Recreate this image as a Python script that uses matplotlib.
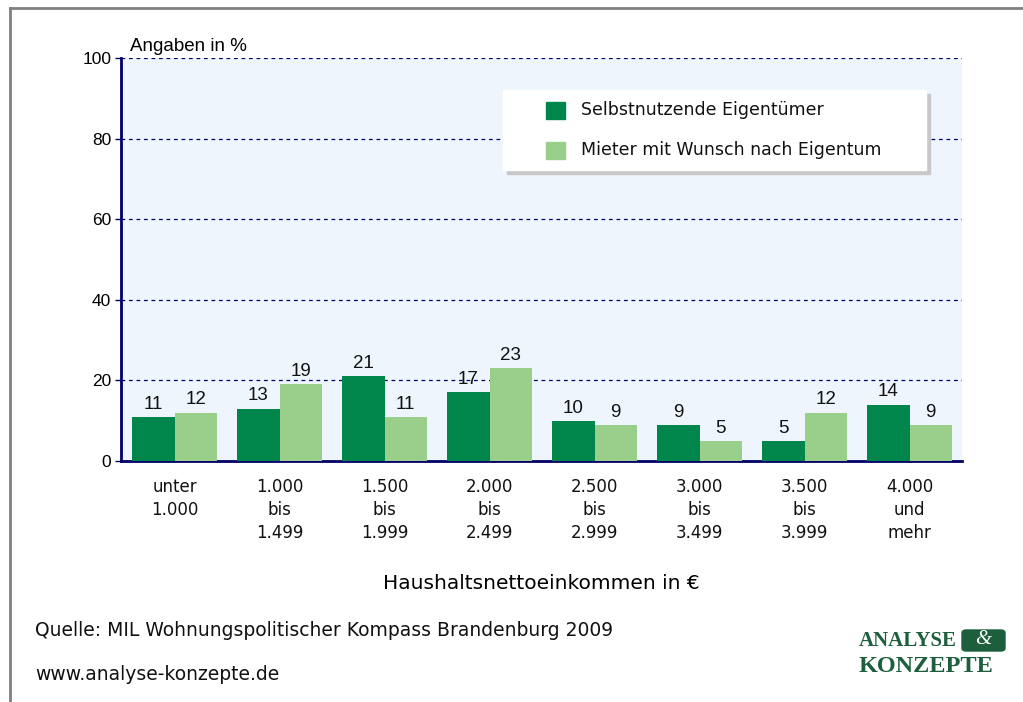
import numpy as np
import matplotlib
matplotlib.use("Agg")
import matplotlib.pyplot as plt
from matplotlib.patches import Rectangle, FancyBboxPatch
from matplotlib.lines import Line2D

# data
categories = ["unter\n1.000", "1.000\nbis\n1.499", "1.500\nbis\n1.999", "2.000\nbis\n2.499",
              "2.500\nbis\n2.999", "3.000\nbis\n3.499", "3.500\nbis\n3.999", "4.000\nund\nmehr"]
eigentuemer = [11, 13, 21, 17, 10, 9, 5, 14]
mieter = [12, 19, 11, 23, 9, 5, 12, 9]
yticks = [0, 20, 40, 60, 80, 100]

dark = "#00864a"
light = "#9acf8b"
navy = "#000066"
bg = "#eef5fd"

W, H = 1023, 702
fig = plt.figure(figsize=(W / 100, H / 100), dpi=100)
ax = fig.add_axes([121 / W, 1 - 461 / H, 841 / W, 403 / H])
ax.set_facecolor(bg)

x = np.arange(len(categories))
bw = 0.405
b1 = ax.bar(x - bw / 2, eigentuemer, bw, color=dark, label="Selbstnutzende Eigentümer", zorder=3)
b2 = ax.bar(x + bw / 2, mieter, bw, color=light, label="Mieter mit Wunsch nach Eigentum", zorder=3)

for bars, vals in ((b1, eigentuemer), (b2, mieter)):
    for r, v in zip(bars, vals):
        ax.annotate(str(v), (r.get_x() + r.get_width() / 2, v), xytext=(0, 3),
                    textcoords="offset points", ha="center", va="bottom",
                    fontsize=13.5, family="Liberation Sans", color="#111111")

ax.set_xlim(-0.51, 7.5)
ax.set_ylim(0, 100)
ax.set_yticks(yticks)
ax.set_yticklabels([str(t) for t in yticks], family="Liberation Sans", fontsize=12.5)
ax.set_xticks(x)
ax.set_xticklabels(categories, family="DejaVu Sans", fontsize=12, linespacing=1.37, color="#111111")
ax.tick_params(axis="x", length=0, pad=12)
ax.tick_params(axis="y", length=4, color=navy, width=1, pad=3)

for t in yticks[1:]:
    ax.axhline(t, color=navy, ls=(0, (3, 3)), lw=0.9, zorder=2)

for s in ["top", "right"]:
    ax.spines[s].set_visible(False)
ax.spines["left"].set_color(navy)
ax.spines["left"].set_linewidth(2)
ax.spines["bottom"].set_color(navy)
ax.spines["bottom"].set_linewidth(2)

ax.text(0.011, 1.008, "Angaben in %", transform=ax.transAxes, fontsize=13.5,
        family="Liberation Sans", ha="left", va="bottom")

ax.set_xlabel("Haushaltsnettoeinkommen in €", fontsize=14.5, family="DejaVu Sans", labelpad=23)

# legend box with shadow
lx0, ly0, lx1, ly1 = 503 / W, 1 - 170 / H, 926 / W, 1 - 90 / H
fig.patches.append(Rectangle((lx0 + 4 / W, ly0 - 4 / H), lx1 - lx0, ly1 - ly0,
                             transform=fig.transFigure, color="#c8c8c8", zorder=5))
fig.patches.append(Rectangle((lx0, ly0), lx1 - lx0, ly1 - ly0,
                             transform=fig.transFigure, color="white", zorder=6))
for i, (c, lab) in enumerate(((dark, b1.get_label()), (light, b2.get_label()))):
    yc = 110 + i * 40
    fig.patches.append(Rectangle((546 / W, 1 - (yc + 9) / H), 19 / W, 17 / H,
                                 transform=fig.transFigure, color=c, zorder=7))
    fig.text(581 / W, 1 - yc / H, lab, fontsize=12.5, family="DejaVu Sans",
             va="center", ha="left", zorder=8, color="#111111")

# frame lines
fig.add_artist(Line2D([10 / W, 10 / W], [0, 1 - 8 / H], color="#808080", lw=2))
fig.add_artist(Line2D([10 / W, 1], [1 - 8 / H, 1 - 8 / H], color="#808080", lw=2))

# source and footer
fig.text(35 / W, 1 - 630 / H, "Quelle: MIL Wohnungspolitischer Kompass Brandenburg 2009",
         fontsize=13.5, family="DejaVu Sans", va="center", color="#111111")
fig.text(35 / W, 1 - 675 / H, "www.analyse-konzepte.de",
         fontsize=13.5, family="DejaVu Sans", va="center", color="#111111")

logo = "#1d5e3c"
fig.text(859 / W, 1 - 641 / H, "ANALYSE", fontsize=15, family="Liberation Serif",
         weight="bold", color=logo, va="center", ha="left")
fig.text(859 / W, 1 - 667 / H, "KONZEPTE", fontsize=17.5, family="Liberation Serif",
         weight="bold", color=logo, va="center", ha="left")
fig.patches.append(FancyBboxPatch((962 / W, 1 - 651 / H), 43 / W, 21 / H,
                                  boxstyle="round,pad=0,rounding_size=0.004",
                                  transform=fig.transFigure, color=logo))
fig.text(983 / W, 1 - 640 / H, "&", fontsize=15, family="Liberation Serif",
         style="italic", color="white", va="center", ha="center")

fig.savefig("out.png", dpi=100)
